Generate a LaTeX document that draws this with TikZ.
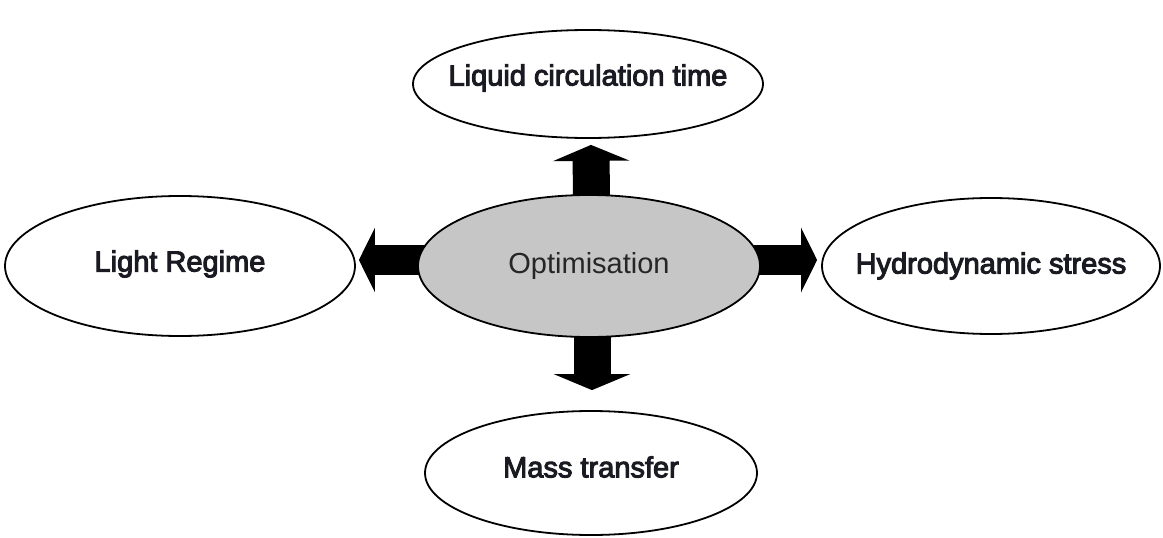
\documentclass[tikz,border=0pt]{standalone}
\usepackage{fontspec}
\setmainfont{Liberation Sans}
\newfontfamily\labfont[FakeBold=3.5]{Liberation Sans}
\usetikzlibrary{shapes.geometric,arrows.meta,calc}
\pgfdeclarelayer{bg}
\pgfsetlayers{bg,main}
\definecolor{midgray}{HTML}{C6C6C6}
\definecolor{txt}{HTML}{1A1A22}
\tikzset{
  oval/.style={ellipse, draw=black, line width=1.8pt, fill=white, inner sep=0pt},
  lab/.style={font=\labfont\fontsize{29}{34}\selectfont, text=txt},
  vblock/.style={line width=37pt, -{Triangle[length=16pt,width=76pt]}, black},
  hblock/.style={line width=30pt, -{Triangle[length=16pt,width=64pt]}, black},
}
\begin{document}
\begin{tikzpicture}[x=1pt,y=-1pt]
\useasboundingbox (0,0) rectangle (1163,538);
\node[oval, fill=midgray, minimum width=342pt, minimum height=142pt,
  label={[font=\fontsize{29}{34}\selectfont, text=black!85]center:Optimisation}] (c) at (589,266) {};
\node[oval, minimum width=350pt, minimum height=108pt,
  label={[lab, yshift=6pt]center:Liquid circulation time}] (t) at (588,84) {};
\node[oval, minimum width=350pt, minimum height=140pt,
  label={[lab, yshift=2pt]center:Light Regime}] (l) at (180,266) {};
\node[oval, minimum width=338pt, minimum height=136pt,
  label={[lab]center:Hydrodynamic stress}] (r) at (991,266) {};
\node[oval, minimum width=332pt, minimum height=124pt,
  label={[lab, yshift=6pt]center:Mass transfer}] (b) at (591,473) {};
\begin{pgfonlayer}{bg}
\draw[vblock] ([xshift=3pt]c.center) -- ([xshift=3pt,yshift=-6pt]t.south);
\draw[vblock] ([xshift=3pt]c.center) -- ([xshift=1pt,yshift=20pt]b.north);
\draw[hblock] ([yshift=6pt]c.center) -- ([xshift=3pt,yshift=6pt]l.east);
\draw[hblock] ([yshift=6pt]c.center) -- ([xshift=-4pt,yshift=6pt]r.west);
\end{pgfonlayer}
\end{tikzpicture}
\end{document}
